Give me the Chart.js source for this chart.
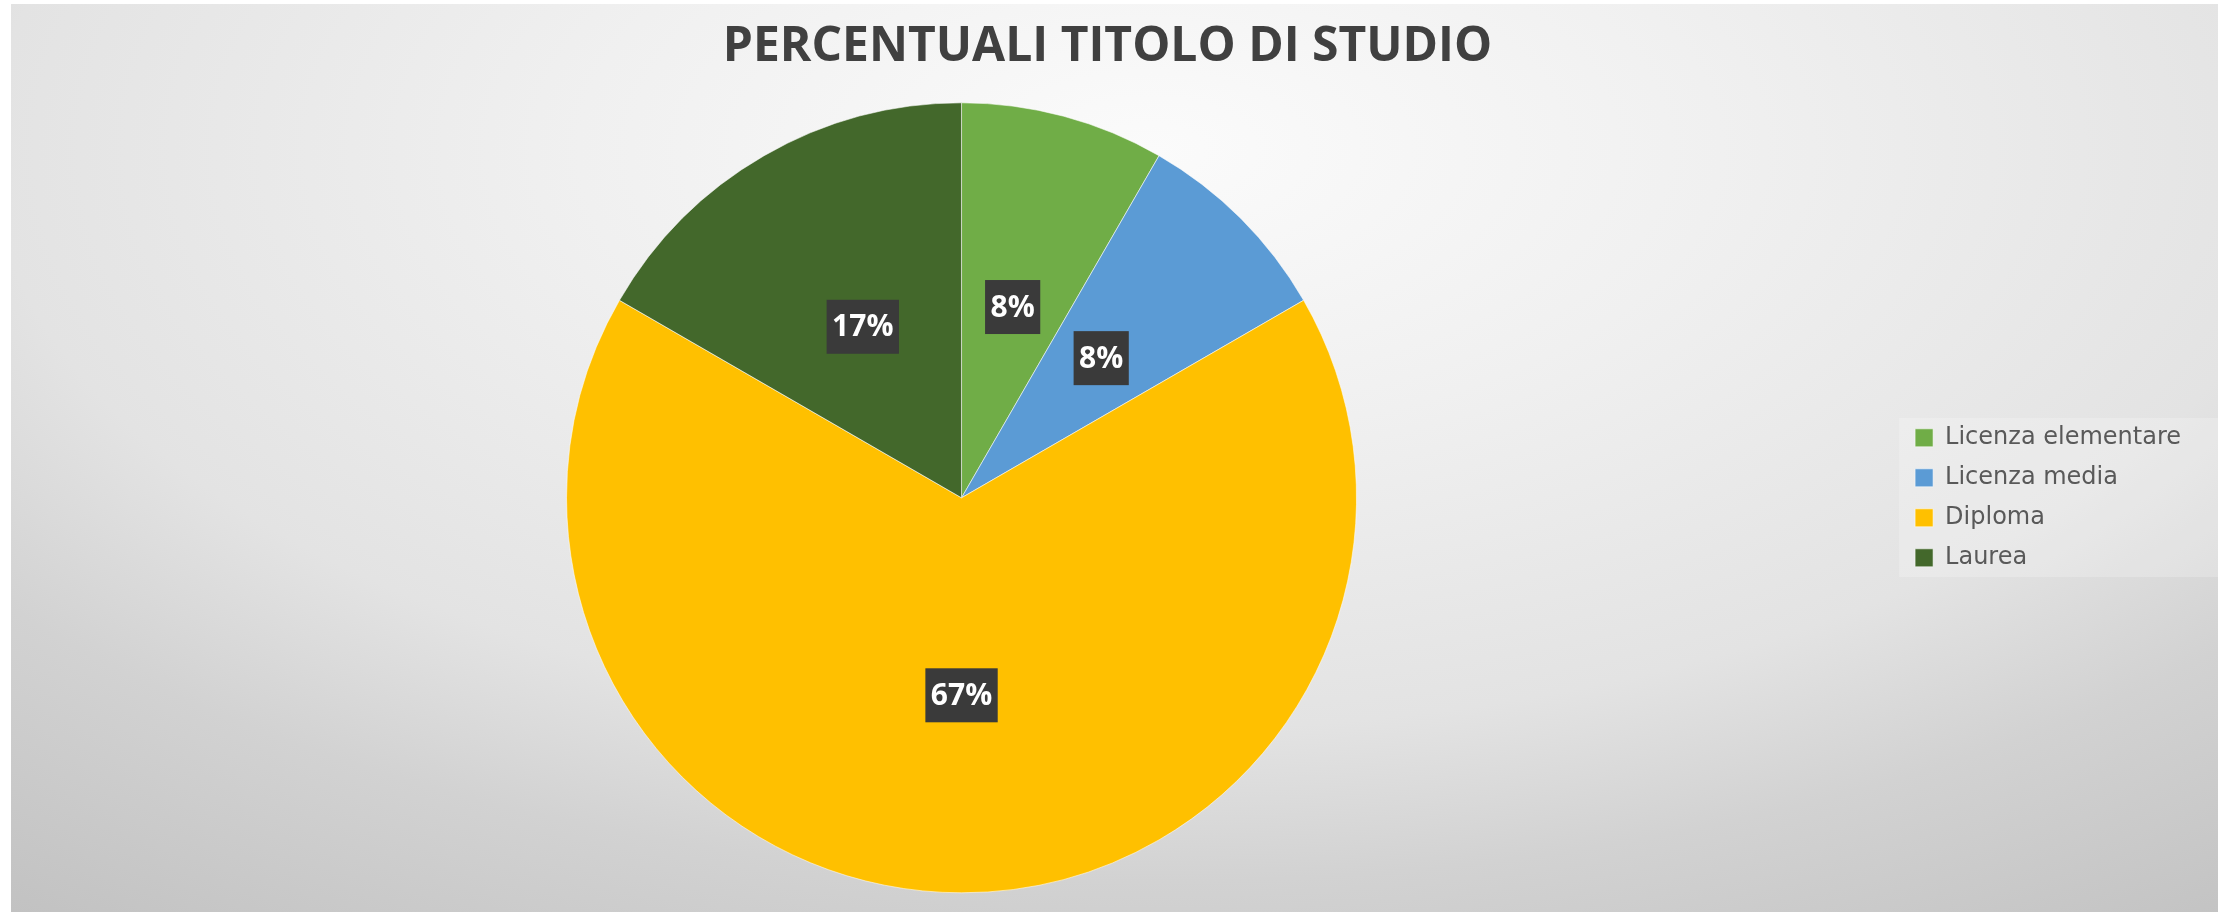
<!DOCTYPE html>
<html>
<head>
<meta charset="utf-8">
<title>Percentuali titolo di studio</title>
<script src="https://cdn.jsdelivr.net/npm/chart.js@4.4.0/dist/chart.umd.min.js"></script>
<style>
  html, body { margin: 0; padding: 0; background: #ffffff; }
  #wrap { width: 2231px; height: 912px; position: relative; }
</style>
</head>
<body>
<div id="wrap"><canvas id="titoloChart"></canvas></div>
<script>
// Titolo di studio - number of people per category
const categories = ['Licenza elementare', 'Licenza media', 'Diploma', 'Laurea'];
const counts = [1, 1, 8, 2];
const sliceColors = ['#70AD47', '#5B9BD5', '#FFC000', '#43682B'];

const total = counts.reduce(function (a, b) { return a + b; }, 0);

//////////////////////////////////////////////////////////////////////////
// Background: white frame + soft grey gradient like the office chart area
//////////////////////////////////////////////////////////////////////////
const backgroundPlugin = {
  id: 'chartBackground',
  beforeDraw: function (chart) {
    const ctx = chart.ctx;
    const w = chart.width, h = chart.height;
    ctx.save();
    ctx.fillStyle = '#ffffff';
    ctx.fillRect(0, 0, w, h);

    // elliptical radial gradient, lighter near the title
    ctx.beginPath();
    ctx.rect(11, 4, w - 24, h - 4);
    ctx.clip();
    ctx.translate(1150, 150);
    ctx.scale(2, 1);
    const g = ctx.createRadialGradient(0, 0, 0, 0, 0, 950);
    g.addColorStop(0, '#fbfbfb');
    g.addColorStop(0.3, '#f0f0f0');
    g.addColorStop(0.61, '#e3e3e3');
    g.addColorStop(0.77, '#d2d2d2');
    g.addColorStop(1, '#c2c2c2');
    ctx.fillStyle = g;
    ctx.fillRect(-700, -200, 1400, 1100);
    ctx.restore();

    // faint lighter box behind the legend
    const lg = chart.legend;
    if (lg) {
      ctx.save();
      ctx.fillStyle = 'rgba(255,255,255,0.22)';
      ctx.fillRect(lg.left, 418, w - 13 - lg.left, 159);
      ctx.restore();
    }
  }
};

//////////////////////////////////////////////////////////////////////////
// Percent labels in dark boxes at the middle of each slice
//////////////////////////////////////////////////////////////////////////
const percentLabels = {
  id: 'percentLabels',
  afterDatasetsDraw: function (chart) {
    const ctx = chart.ctx;
    const meta = chart.getDatasetMeta(0);
    ctx.save();
    ctx.font = 'bold 30px "Open Sans"';
    ctx.textAlign = 'center';
    ctx.textBaseline = 'middle';
    meta.data.forEach(function (arc, i) {
      const p = arc.getCenterPoint();
      const txt = Math.round(counts[i] / total * 100) + '%';
      const tw = ctx.measureText(txt).width;
      const bw = tw + 11, bh = 54;
      ctx.fillStyle = '#3a3a3a';
      ctx.fillRect(p.x - bw / 2, p.y - bh / 2, bw, bh);
      ctx.fillStyle = '#ffffff';
      ctx.fillText(txt, p.x, p.y + 1);
    });
    ctx.restore();
  }
};

var ctx = document.getElementById('titoloChart').getContext('2d');
var titoloChart = new Chart(ctx, {
  type: 'pie',
  data: {
    labels: categories,
    datasets: [{
      data: counts,
      backgroundColor: sliceColors,
      borderColor: 'rgba(255,255,255,0.55)',
      borderWidth: 1
    }]
  },
  options: {
    responsive: true,
    maintainAspectRatio: false,
    devicePixelRatio: 1,
    animation: false,
    radius: 395,
    layout: {
      padding: { left: 24, right: 40, top: 0, bottom: 0 }
    },
    plugins: {
      title: {
        display: true,
        text: 'PERCENTUALI TITOLO DI STUDIO',
        color: '#404040',
        font: { family: 'Open Sans', size: 48, weight: 'bold', lineHeight: 1.2 },
        padding: { top: 19, bottom: 7 }
      },
      legend: {
        position: 'right',
        fullSize: false,
        labels: {
          color: '#595959',
          font: { family: 'DejaVu Sans', size: 24 },
          boxWidth: 18,
          boxHeight: 18,
          padding: 16
        }
      },
      tooltip: { enabled: false }
    }
  },
  plugins: [backgroundPlugin, percentLabels]
});
</script>
</body>
</html>
